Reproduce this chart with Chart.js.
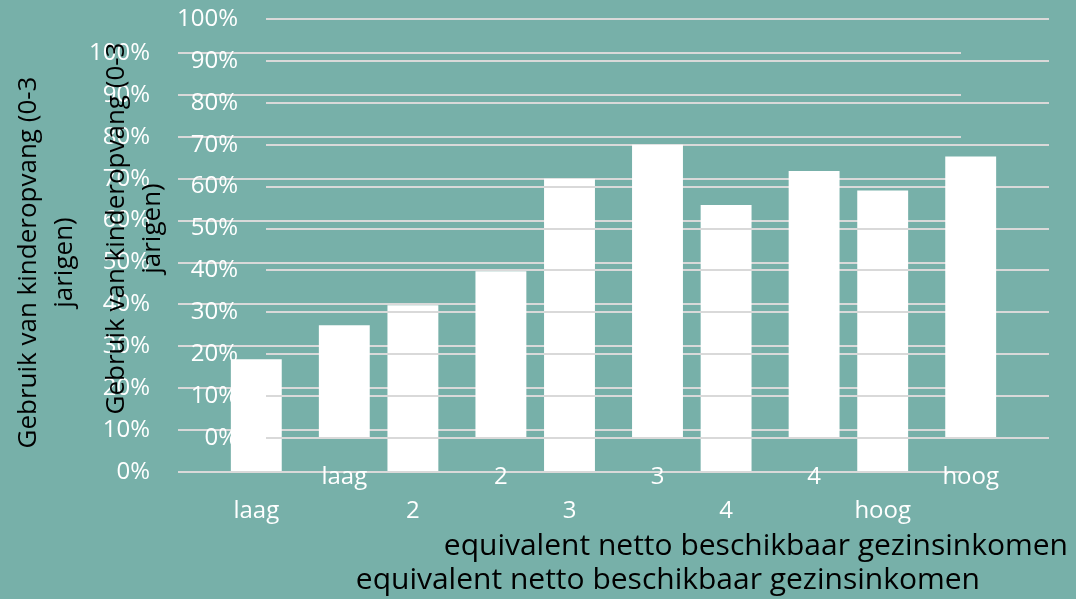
<!DOCTYPE html>
<html>
<head>
<meta charset="utf-8">
<script src="https://cdn.jsdelivr.net/npm/chart.js@4"></script>
<style>
  html, body { margin: 0; padding: 0; background: #77b0a9; }
  #wrap { position: relative; width: 1076px; height: 599px; background: #77b0a9; overflow: hidden; }
  #wrap canvas { position: absolute; left: 0; top: 0; }
</style>
</head>
<body>
<div id="wrap">
  <canvas id="back" width="1076" height="599"></canvas>
  <canvas id="front" width="1076" height="599"></canvas>
</div>
<script>
// data
const categories = ['laag', '2', '3', '4', 'hoog'];
const usage = [26.9, 39.8, 70.0, 63.7, 67.2];   // % gebruik kinderopvang
const yTicks = [0, 10, 20, 30, 40, 50, 60, 70, 80, 90, 100];
const yTitle = ['Gebruik van kinderopvang (0-3', 'jarigen)'];
const xTitle = 'equivalent netto beschikbaar gezinsinkomen';

Chart.defaults.font.family = "'Open Sans', 'Noto Sans', sans-serif";

// x-as titel staat rechts uitgelijnd, iets voorbij de plot
const xTitlePlugin = {
    id: 'xTitle',
    afterDraw(chart) {
        const { ctx, chartArea } = chart;
        ctx.save();
        ctx.font = "30px 'Open Sans', 'Noto Sans', sans-serif";
        ctx.fillStyle = '#000000';
        ctx.textAlign = 'right';
        ctx.textBaseline = 'alphabetic';
        ctx.fillText(xTitle, chartArea.right + 19, chartArea.bottom + 117);
        ctx.restore();
    }
};

function makeChart(id, padding) {
    const ctx = document.getElementById(id).getContext('2d');
    return new Chart(ctx, {
        type: 'bar',
        data: {
            labels: categories,
            datasets: [{
                data: usage,
                backgroundColor: '#ffffff',
                borderWidth: 0,
                barPercentage: 0.65,
                categoryPercentage: 0.5
            }]
        },
        options: {
            responsive: false,
            animation: false,
            layout: { padding: padding },
            plugins: {
                legend: { display: false },
                tooltip: { enabled: false }
            },
            scales: {
                x: {
                    grid: { display: false },
                    border: { display: false },
                    ticks: { color: '#ffffff', font: { size: 24 }, padding: 17 },
                    afterFit: (scale) => { scale.height = 60; }
                },
                y: {
                    min: 0,
                    max: 100,
                    afterBuildTicks: (scale) => { scale.ticks = yTicks.map(v => ({ value: v })); },
                    ticks: {
                        color: '#ffffff',
                        font: { size: 24 },
                        padding: 0,
                        callback: v => v + '%'
                    },
                    // onzichtbare tick marks geven de ruimte tussen label en plot
                    grid: { color: '#d9d9d9', lineWidth: 2, drawTicks: true, tickLength: 28, tickColor: 'rgba(0,0,0,0)' },
                    border: { display: false },
                    title: {
                        display: true,
                        text: yTitle,
                        color: '#000000',
                        font: { size: 26, lineHeight: 1.38 },
                        padding: { top: 11, bottom: 0 }
                    },
                    afterFit: (scale) => { scale.width = 178; }
                }
            }
        },
        plugins: [xTitlePlugin]
    });
}

// twee keer dezelfde grafiek, verschoven over elkaar
makeChart('back', { left: 0, top: 53, right: 115, bottom: 67 });
makeChart('front', { left: 88, top: 19, right: 27, bottom: 101 });
</script>
</body>
</html>
